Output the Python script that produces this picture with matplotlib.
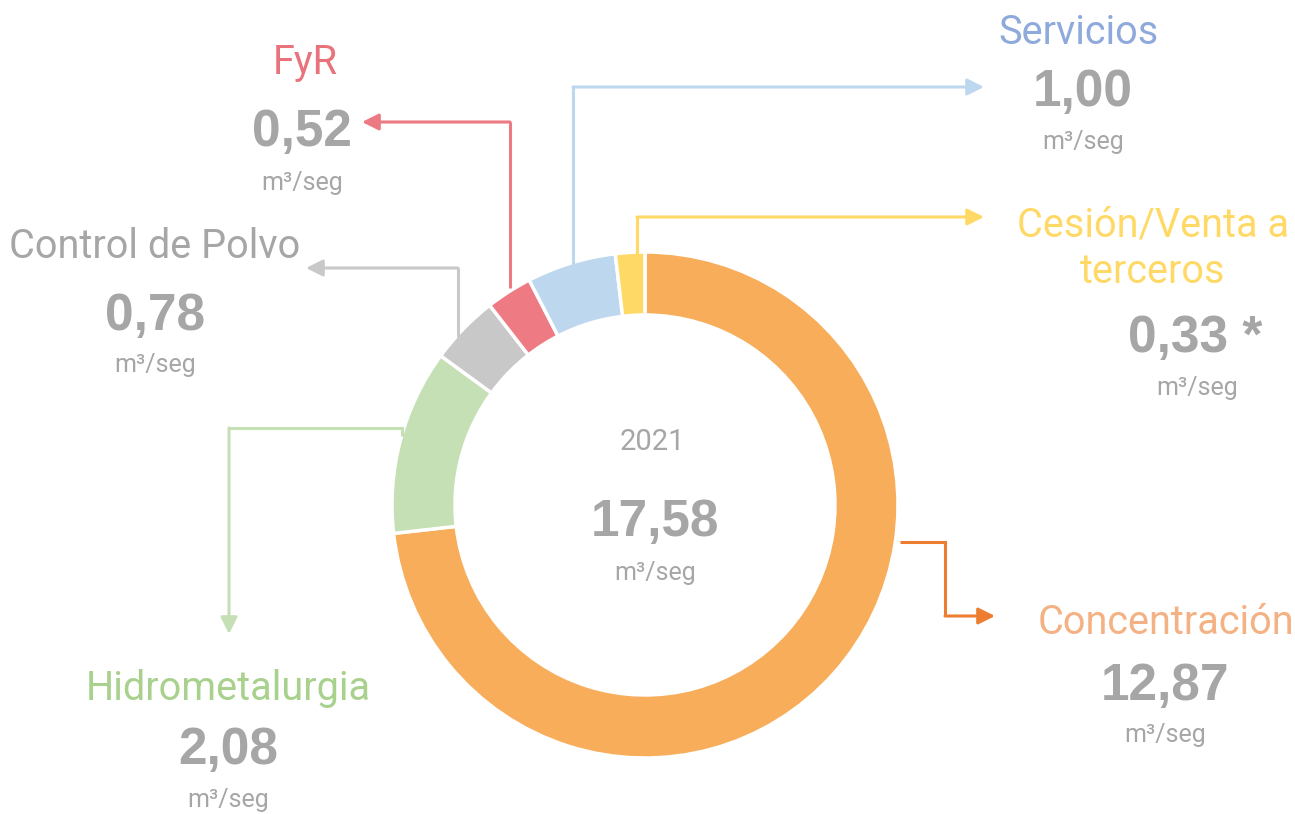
import matplotlib.pyplot as plt

# Consumo de agua por área, 2021 (m3/seg)
categories = ['Concentración', 'Hidrometalurgia', 'Control de Polvo', 'FyR', 'Servicios', 'Cesión/Venta a\nterceros']
values = [12.87, 2.08, 0.78, 0.52, 1.00, 0.33]
value_labels = ['12,87', '2,08', '0,78', '0,52', '1,00', '0,33 *']
wedge_colours = ['#F8AD5A', '#C5E0B4', '#C8C8C8', '#EE7B83', '#BDD7EE', '#FFD966']
title_colours = ['#F4B183', '#A9D18E', '#A6A6A6', '#E9737C', '#8EA9DB', '#FFD966']
arrow_colours = ['#ED7D31', '#C5E0B4', '#C9C9C9', '#EC7A82', '#BDD7EE', '#FFD966']
year = '2021'
total_label = '17,58'
unit = 'm³/seg'

W, H = 1295, 814
grey = '#A6A6A6'
title_font = ['Roboto', 'DejaVu Sans']
num_font = ['Liberation Sans', 'DejaVu Sans']


def Y(py):
    return H - py


# label positions (pixel layout): title, value, unit
label_pos = [
    ((1166, 622), (1165, 686), (1165, 735)),
    ((228, 688), (228, 750), (228, 800)),
    ((155, 246), (155, 317), (155, 365)),
    ((305, 62), (302, 132), (302, 183)),
    ((1078, 33), (1083, 92), (1083, 142)),
    ((1153, 248), (1195, 338), (1197, 388)),
]

# leader lines (pixel layout), last segment gets the arrow head
leaders = [
    [(900, 542), (945, 542), (945, 616), (995, 616)],
    [(402, 436), (402, 428), (229, 428), (229, 634)],
    [(458, 337), (458, 268), (306, 268)],
    [(510, 288), (510, 122), (362, 122)],
    [(573, 265), (573, 87), (984, 87)],
    [(637, 255), (637, 217), (984, 217)],
]

fig = plt.figure(figsize=(W / 100, H / 100), dpi=100)
ax = fig.add_axes([0, 0, 1, 1])

ax.pie(values, colors=wedge_colours, startangle=90, counterclock=False,
       center=(645, Y(505)), radius=253,
       wedgeprops=dict(width=63, edgecolor='white', linewidth=2.5))

ax.set_xlim(0, W)
ax.set_ylim(0, H)
ax.set_aspect('equal')
ax.axis('off')

for pts, col in zip(leaders, arrow_colours):
    xs = [p[0] for p in pts[:-1]]
    ys = [Y(p[1]) for p in pts[:-1]]
    ax.plot(xs, ys, color=col, lw=2.2, solid_capstyle='butt', solid_joinstyle='miter')
    (x0, y0), (x1, y1) = pts[-2], pts[-1]
    ax.annotate('', xy=(x1, Y(y1)), xytext=(x0, Y(y0)),
                arrowprops=dict(arrowstyle='-|>,head_length=1.0,head_width=0.5',
                                color=col, lw=2.2, shrinkA=0, shrinkB=0))

for cat, val, tcol, (tp, vp, up) in zip(categories, value_labels, title_colours, label_pos):
    ax.text(tp[0], Y(tp[1]), cat, ha='center', va='center', fontsize=28.5,
            color=tcol, family=title_font, linespacing=1.25)
    ax.text(vp[0], Y(vp[1]), val, ha='center', va='center', fontsize=37,
            color=grey, family=num_font, fontweight='bold')
    ax.text(up[0], Y(up[1]), unit, ha='center', va='center', fontsize=18,
            color=grey, family=title_font)

# centre of the donut
ax.text(652, Y(442), year, ha='center', va='center', fontsize=21, color=grey, family=title_font)
ax.text(655, Y(523), total_label, ha='center', va='center', fontsize=37,
        color=grey, family=num_font, fontweight='bold')
ax.text(655, Y(573), unit, ha='center', va='center', fontsize=18, color=grey, family=title_font)

plt.savefig('out.png', dpi=100)
